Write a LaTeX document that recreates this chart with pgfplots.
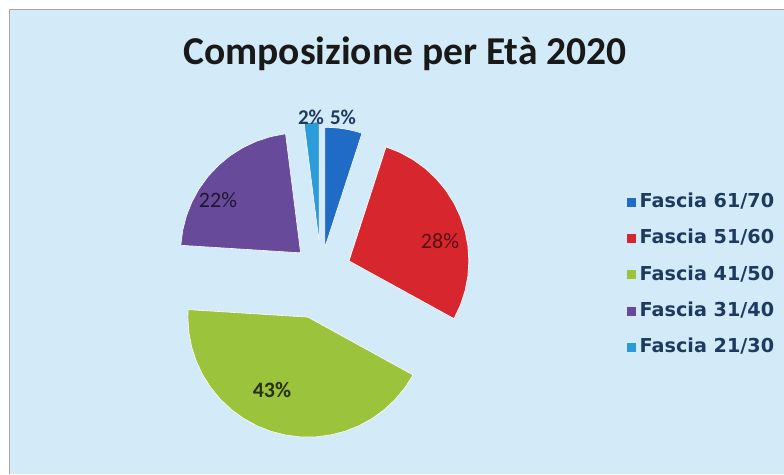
\documentclass[border=0pt]{standalone}
\usepackage{pgfplots}
\pgfplotsset{compat=1.18}
\usepackage{pgfplotstable}
\usepackage{fontspec}
\setmainfont{Carlito}
\newfontfamily\legfont{DejaVu Sans}

\definecolor{bgblue}{HTML}{D3EBF8}
\definecolor{c61}{HTML}{1F6BC6}
\definecolor{c51}{HTML}{D8262E}
\definecolor{c41}{HTML}{9BC43C}
\definecolor{c31}{HTML}{674B9A}
\definecolor{c21}{HTML}{2B9BDA}
\definecolor{navy}{HTML}{1F3A5F}

% pie centre and radius (in pt = px)
\newcommand{\cx}{321}
\newcommand{\cy}{202}
\newcommand{\R}{120}

% slices: cumulative percent p (clockwise from top), r=0 tip, r=1 rim
\pgfplotstableread{
p r
0 0
0 1
1 1
2 1
3 1
4 1
5 1
}\sliceA % Fascia 61/70  5%
\pgfplotstableread{
p r
5 0
5 1
7 1
9 1
11 1
13 1
15 1
17 1
19 1
21 1
23 1
25 1
27 1
29 1
31 1
33 1
}\sliceB % Fascia 51/60  28%
\pgfplotstableread{
p r
33 0
33 1
35 1
37 1
39 1
41 1
43 1
45 1
47 1
49 1
51 1
53 1
55 1
57 1
59 1
61 1
63 1
65 1
67 1
69 1
71 1
73 1
75 1
76 1
}\sliceC % Fascia 41/50  43%
\pgfplotstableread{
p r
76 0
76 1
78 1
80 1
82 1
84 1
86 1
88 1
90 1
92 1
94 1
96 1
98 1
}\sliceD % Fascia 31/40  22%
\pgfplotstableread{
p r
98 0
98 1
99 1
100 1
}\sliceE % Fascia 21/30  2%

\begin{document}
\begin{tikzpicture}
\begin{axis}[
  width=784pt, height=474pt, scale only axis,
  xmin=0, xmax=784, ymin=0, ymax=474,
  hide axis,
  legend cell align=left,
  legend image code/.code={\fill[#1,draw=none] (0pt,-4.5pt) rectangle (9pt,4.5pt);},
  legend style={at={(axis cs:627,199)}, anchor=west, draw=none, fill=none,
    font=\legfont\bfseries\fontsize{19.2}{22}\selectfont, text=navy,
    row sep=15.8pt, inner sep=0pt,
    nodes={inner ysep=1.5pt, inner xsep=3.5pt, text height=13.8pt, text depth=3.6pt}},
]
% page and panel
\addplot[forget plot, fill=white, draw=none] coordinates {(0,0) (0,474) (784,474) (784,0)} -- cycle;
\addplot[forget plot, fill=bgblue, draw=none] coordinates {(9,0) (9,464) (784,464) (784,0)} -- cycle;
\addplot[forget plot, draw=gray!70, line width=1pt] coordinates {(9,0) (9,464) (784,464)};

\addplot[fill=c61, draw=white, line width=0.6pt] table[
  x expr={\cx+25*cos(81)+\R*\thisrow{r}*cos(90-3.6*\thisrow{p})},
  y expr={\cy+25*sin(81)+\R*\thisrow{r}*sin(90-3.6*\thisrow{p})}] {\sliceA} -- cycle;
\addlegendentry{Fascia 61/70}
\addplot[fill=c51, draw=white, line width=0.8pt] table[
  x expr={\cx+30*cos(21.6)+\R*\thisrow{r}*cos(90-3.6*\thisrow{p})},
  y expr={\cy+30*sin(21.6)+\R*\thisrow{r}*sin(90-3.6*\thisrow{p})}] {\sliceB} -- cycle;
\addlegendentry{Fascia 51/60}
\addplot[fill=c41, draw=white, line width=0.6pt] table[
  x expr={\cx+47*cos(-106.2)+\R*\thisrow{r}*cos(90-3.6*\thisrow{p})},
  y expr={\cy+47*sin(-106.2)+\R*\thisrow{r}*sin(90-3.6*\thisrow{p})}] {\sliceC} -- cycle;
\addlegendentry{Fascia 41/50}
\addplot[fill=c31, draw=white, line width=0.6pt] table[
  x expr={\cx+28*cos(136.8)+\R*\thisrow{r}*cos(90-3.6*\thisrow{p})},
  y expr={\cy+28*sin(136.8)+\R*\thisrow{r}*sin(90-3.6*\thisrow{p})}] {\sliceD} -- cycle;
\addlegendentry{Fascia 31/40}
\addplot[fill=c21, draw=white, line width=0.6pt] table[
  x expr={\cx+30*cos(93.6)+\R*\thisrow{r}*cos(90-3.6*\thisrow{p})},
  y expr={\cy+30*sin(93.6)+\R*\thisrow{r}*sin(90-3.6*\thisrow{p})}] {\sliceE} -- cycle;
\addlegendentry{Fascia 21/30}

% title and labels
\node[font=\bfseries\fontsize{39.5}{46}\selectfont, text=black!90] at (axis cs:405,420) {Composizione per Età 2020};
\node[font=\bfseries\fontsize{21}{24}\selectfont, text=navy] at (axis cs:311,357) {2\%};
\node[font=\bfseries\fontsize{21}{24}\selectfont, text=navy] at (axis cs:343,357) {5\%};
\node[font=\fontsize{22}{26}\selectfont, text=black!70!c31] at (axis cs:218,274) {22\%};
\node[font=\fontsize{22}{26}\selectfont, text=black!60!c51] at (axis cs:440,233) {28\%};
\node[font=\bfseries\fontsize{22}{26}\selectfont, text=black!75!c41] at (axis cs:272,84) {43\%};
\end{axis}
\end{tikzpicture}
\end{document}
